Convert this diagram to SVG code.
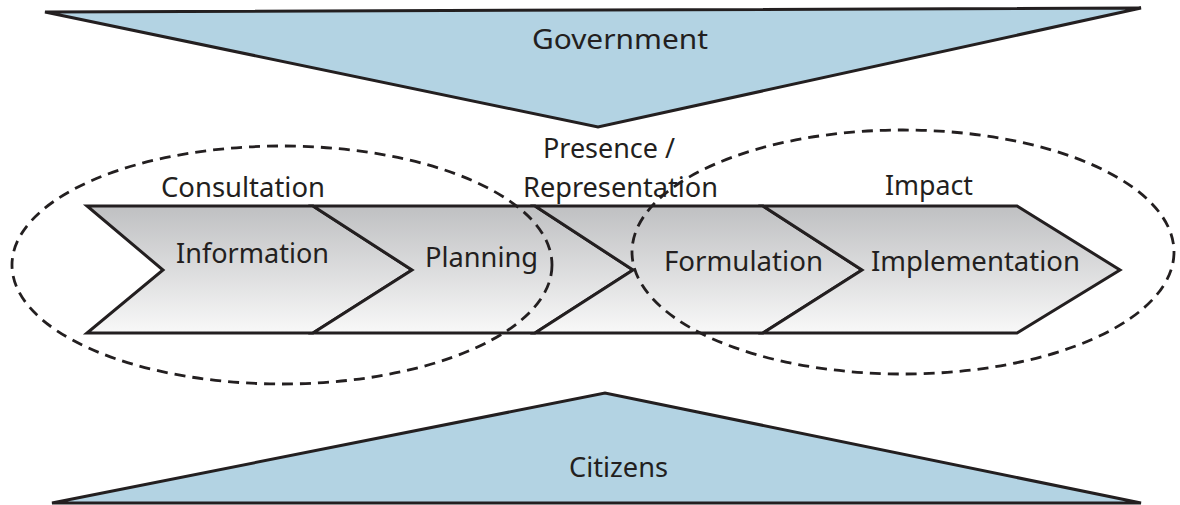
<svg xmlns="http://www.w3.org/2000/svg" width="1180" height="505" viewBox="0 0 1180 505">
<defs>
<linearGradient id="g" x1="0" y1="206" x2="0" y2="333" gradientUnits="userSpaceOnUse">
<stop offset="0" stop-color="#bfc0c2"/>
<stop offset="1" stop-color="#f8f8f8"/>
</linearGradient>
<style>
.tri{fill:#b3d3e3;stroke:#231f20;stroke-width:3;stroke-linejoin:miter}
.chev{fill:url(#g);stroke:#231f20;stroke-width:3;stroke-linejoin:miter}
.ell{fill:none;stroke:#231f20;stroke-width:2.8;stroke-dasharray:11 7}
text{font-family:"Noto Sans","Open Sans",sans-serif;font-size:28px;fill:#231f20}
</style>
</defs>
<rect width="1180" height="505" fill="#ffffff"/>
<g id="government">
<polygon class="tri" points="45,12 1141,8 598,127"/>
<text x="532" y="49" textLength="176" lengthAdjust="spacingAndGlyphs">Government</text>
</g>
<g id="citizens">
<polygon class="tri" points="52,503 605,393 1141,503"/>
<text x="569" y="477" textLength="99" lengthAdjust="spacingAndGlyphs">Citizens</text>
</g>
<g id="information">
<polygon class="chev" points="87,206 313,206 412,270 313,333 87,333 163,270"/>
<text x="176" y="263" textLength="153" lengthAdjust="spacingAndGlyphs">Information</text>
</g>
<g id="planning">
<polygon class="chev" points="313,206 535,206 633,270 535,333 313,333 412,270"/>
<text x="425" y="267" textLength="113" lengthAdjust="spacingAndGlyphs">Planning</text>
</g>
<g id="presence">
<polygon class="chev" points="535,206 763,206 862,270 763,333 535,333 633,270"/>
</g>
<g id="formulation">
<polygon class="chev" points="763,206 1017,206 1120,270 1017,333 763,333 862,270"/>
</g>
<g id="connectors">
<ellipse class="ell" cx="282" cy="265" rx="270" ry="119"/>
<ellipse class="ell" cx="903" cy="252" rx="271" ry="122"/>
</g>
<g id="labels">
<text x="161" y="197" textLength="164" lengthAdjust="spacingAndGlyphs">Consultation</text>
<text x="543" y="158" textLength="132" lengthAdjust="spacingAndGlyphs">Presence /</text>
<text x="523" y="197" textLength="195" lengthAdjust="spacingAndGlyphs">Representation</text>
<text x="664" y="271" textLength="159" lengthAdjust="spacingAndGlyphs">Formulation</text>
<text x="871" y="271" textLength="209" lengthAdjust="spacingAndGlyphs">Implementation</text>
<text x="885" y="195" textLength="88" lengthAdjust="spacingAndGlyphs">Impact</text>
</g>
</svg>
